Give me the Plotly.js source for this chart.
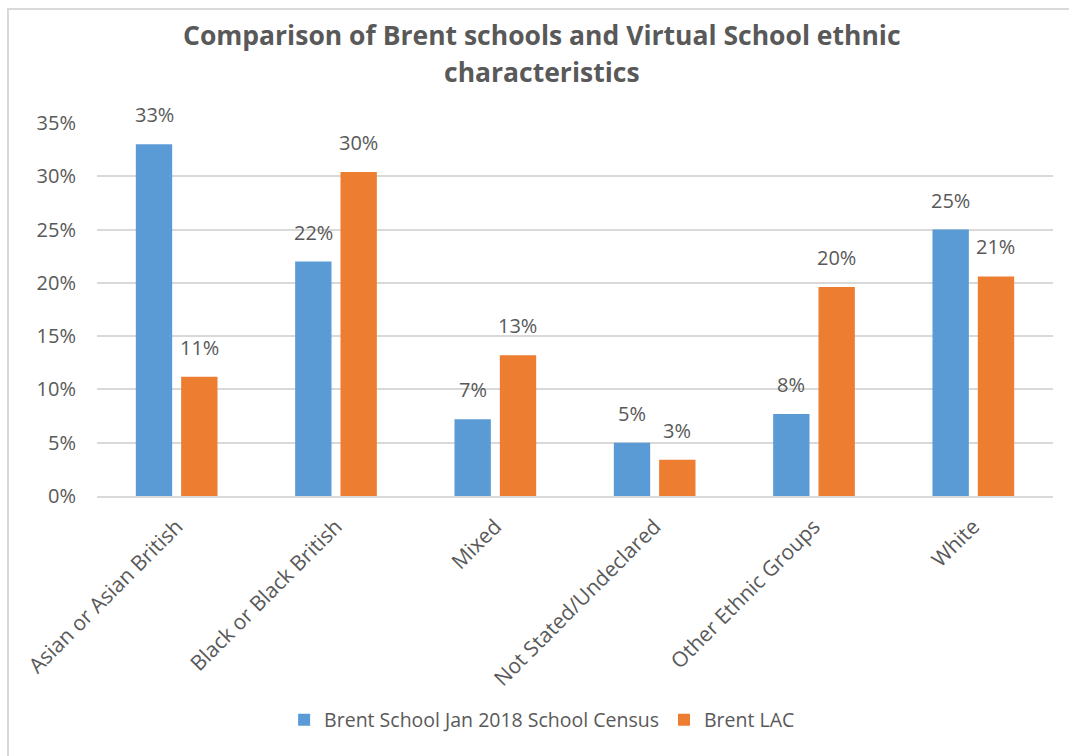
<!DOCTYPE html>
<html>
<head>
<meta charset="utf-8">
<script src="https://cdn.plot.ly/plotly-3.0.1.min.js"></script>
<style>
html,body{margin:0;padding:0;background:#fff;}
#frame{position:absolute;left:7px;top:8px;width:1080px;height:770px;border:2px solid #d9d9d9;box-sizing:border-box;}
#chart{position:absolute;left:0;top:0;width:1069px;height:756px;}
</style>
</head>
<body>
<div id="frame"></div>
<div id="chart"></div>
<script>
const categories = ["Asian or Asian British","Black or Black British","Mixed","Not Stated/Undeclared","Other Ethnic Groups","White"];
const censusValues = [0.330, 0.220, 0.072, 0.050, 0.077, 0.250];
const lacValues = [0.112, 0.304, 0.132, 0.034, 0.196, 0.206];
const seriesNames = ["Brent School Jan 2018 School Census","Brent LAC"];
const seriesColors = ["#5b9bd5","#ed7d31"];
const yTickVals = [0,0.05,0.10,0.15,0.20,0.25,0.30,0.35];
const yTickText = ["0%","5%","10%","15%","20%","25%","30%","35%"];
const titleLines = ["Comparison of Brent schools and Virtual School ethnic","characteristics"];

const fontFam = "Open Sans, Noto Sans, sans-serif";
const grey = "#595959";

const series = [censusValues, lacValues];
const data = series.map((vals,i)=>({
  type:"bar", x:categories, y:vals, name:seriesNames[i],
  marker:{color:seriesColors[i]}
}));

// value labels placed on the axes at each bar's data value
const W = 1069, ML = 97, MR = 16;
const bandPx = (W-ML-MR)/categories.length;
const bargap = 0.431, bargroupgap = 0.198;
const slot = bandPx*(1-bargap)/2;
const annotations = [];
series.forEach((vals,i)=>{
  vals.forEach((v,j)=>{
    annotations.push({
      x:categories[j], y:v, xref:"x", yref:"y",
      text: Math.round(v*100)+"%", showarrow:false,
      xanchor:"center", yanchor:"bottom",
      xshift:(i===0?-1:1)*slot/2, yshift:14,
      font:{family:fontFam, size:20, color:grey}
    });
  });
});
const titleY = [1.236, 1.137];
titleLines.forEach((t,k)=>{
  annotations.push({
    x:0.4656, y:titleY[k], xref:"paper", yref:"paper",
    text:"<b>"+t+"</b>", showarrow:false, xanchor:"center", yanchor:"middle",
    font:{family:fontFam, size:26.5, color:grey}
  });
});

const layout = {
  width:W, height:756,
  margin:{l:ML, r:MR, t:123, b:260},
  paper_bgcolor:"rgba(0,0,0,0)", plot_bgcolor:"rgba(0,0,0,0)",
  barmode:"group", bargap:bargap, bargroupgap:bargroupgap,
  showlegend:true,
  legend:{orientation:"h", x:0.4656, xanchor:"center", y:-0.6005, yanchor:"middle",
    font:{family:fontFam, size:19.5, color:grey}, traceorder:"normal", itemwidth:30},
  annotations:annotations,
  xaxis:{tickangle:-45, tickfont:{family:fontFam, size:21, color:grey},
    showline:true, linecolor:"#d9d9d9", linewidth:2, ticks:"", automargin:false,
    ticklabelstandoff:8},
  yaxis:{range:[0,0.35], tickvals:yTickVals, ticktext:yTickText,
    tickfont:{family:fontFam, size:20, color:grey},
    showgrid:true, gridcolor:"#d9d9d9", gridwidth:2, zeroline:false, ticks:"",
    automargin:false, ticklabelstandoff:20}
};
Plotly.newPlot("chart", data, layout, {displayModeBar:false, staticPlot:true});
</script>
</body>
</html>
